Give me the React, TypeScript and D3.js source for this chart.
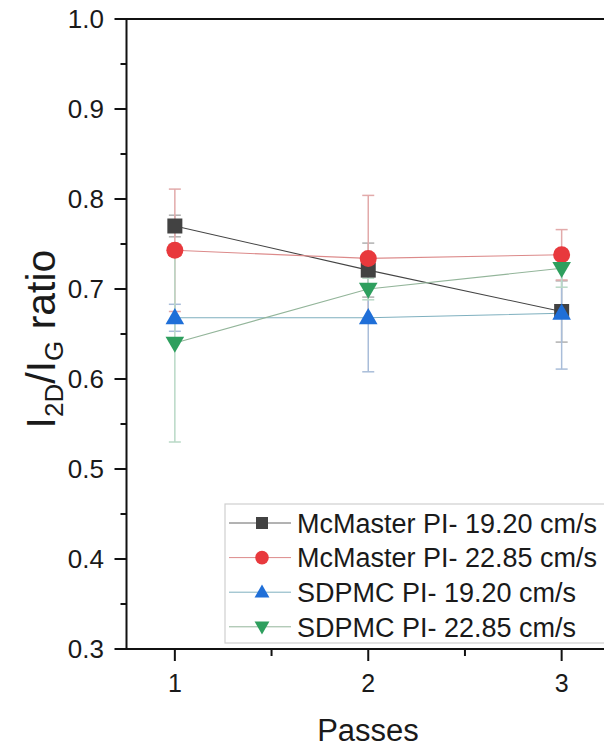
import React from "react";
import * as d3 from "d3";

const passes = [1, 2, 3];
const seriesNames = [
  "McMaster PI- 19.20 cm/s",
  "McMaster PI- 22.85 cm/s",
  "SDPMC PI- 19.20 cm/s",
  "SDPMC PI- 22.85 cm/s",
];
const mcm1920 = [0.77, 0.721, 0.675];
const mcm1920Err = [0.012, 0.03, 0.034];
const mcm2285 = [0.743, 0.734, 0.738];
const mcm2285Err = [0.068, 0.07, 0.028];
const sd1920 = [0.668, 0.668, 0.673];
const sd1920Err = [0.015, 0.06, 0.062];
const sd2285 = [0.64, 0.7, 0.723];
const sd2285Err = [0.11, 0.012, 0.021];

const yTicks = [0.3, 0.4, 0.5, 0.6, 0.7, 0.8, 0.9, 1.0];
const xTicks = [1, 2, 3];

const FONT = "'Liberation Sans', Arial, Helvetica, sans-serif";

type Shape = "square" | "circle" | "up" | "down";

const series = [
  { name: seriesNames[0], values: mcm1920, err: mcm1920Err, shape: "square" as Shape, fill: "#424242", line: "#444444", bar: "#b0b0b0" },
  { name: seriesNames[1], values: mcm2285, err: mcm2285Err, shape: "circle" as Shape, fill: "#e8393d", line: "#dc8a8a", bar: "#e2aaaa" },
  { name: seriesNames[2], values: sd1920, err: sd1920Err, shape: "up" as Shape, fill: "#1f6fd8", line: "#7fb0bf", bar: "#a9bdd9" },
  { name: seriesNames[3], values: sd2285, err: sd2285Err, shape: "down" as Shape, fill: "#2e9f5e", line: "#93b59a", bar: "#b9d9c6" },
];

function Marker({ shape, x, y, fill, s = 1 }: { shape: Shape; x: number; y: number; fill: string; s?: number }) {
  if (shape === "square") return <rect x={x - 7.5 * s} y={y - 7.5 * s} width={15 * s} height={15 * s} fill={fill} />;
  if (shape === "circle") return <circle cx={x} cy={y} r={8.5 * s} fill={fill} />;
  const sym = d3.symbol().type(d3.symbolTriangle).size(150 * s * s)();
  return (
    <path d={sym || ""} transform={`translate(${x},${y + (shape === "up" ? 1 : -1)}) rotate(${shape === "down" ? 180 : 0})`} fill={fill} />
  );
}

export default function App() {
  const W = 604, H = 748;
  const left = 126.5, right = 610, top = 19, bottom = 649;
  const x = d3.scaleLinear().domain([0.75, 3.25]).range([left, right]);
  const y = d3.scaleLinear().domain([0.3, 1.0]).range([bottom, top]);
  const minorY = d3.range(0.35, 1.0, 0.1);
  const minorX = [1.5, 2.5];

  return (
    <svg width={W} height={H} style={{ position: "absolute", left: 0, top: 0, background: "#fff" }} fontFamily={FONT}>
      <rect width={W} height={H} fill="#fff" />
      {series.map((s, i) => {
        const line = d3.line<number>().x((_, j) => x(passes[j])).y((v) => y(v));
        return <path key={"l" + i} d={line(s.values) || ""} fill="none" stroke={s.line} strokeWidth={1.1} />;
      })}
      {series.map((s, i) =>
        s.values.map((v, j) => {
          const cx = x(passes[j]);
          const y1 = y(v + s.err[j]);
          const y2 = y(v - s.err[j]);
          return (
            <g key={`e${i}-${j}`} stroke={s.bar} strokeWidth={1.5}>
              <line x1={cx} x2={cx} y1={y1} y2={y2} />
              <line x1={cx - 6} x2={cx + 6} y1={y1} y2={y1} />
              <line x1={cx - 6} x2={cx + 6} y1={y2} y2={y2} />
            </g>
          );
        })
      )}
      {series.map((s, i) =>
        s.values.map((v, j) => <Marker key={`m${i}-${j}`} shape={s.shape} x={x(passes[j])} y={y(v)} fill={s.fill} />)
      )}
      <line x1={left} x2={W} y1={top} y2={top} stroke="#111" strokeWidth={2} />
      <line x1={left} x2={W} y1={bottom} y2={bottom} stroke="#111" strokeWidth={2} />
      <line x1={left} x2={left} y1={top - 1} y2={bottom + 1} stroke="#111" strokeWidth={2} />
      {yTicks.map((t) => (
        <g key={"yt" + t}>
          <line x1={left - 12} x2={left} y1={y(t)} y2={y(t)} stroke="#111" strokeWidth={2} />
          <text x={104} y={y(t)} dy="0.36em" textAnchor="end" fontSize={26} fill="#1a1a1a">
            {d3.format(".1f")(t)}
          </text>
        </g>
      ))}
      {minorY.map((t) => (
        <line key={"ym" + t} x1={left - 6} x2={left} y1={y(t)} y2={y(t)} stroke="#111" strokeWidth={2} />
      ))}
      {xTicks.map((t) => (
        <g key={"xt" + t}>
          <line x1={x(t)} x2={x(t)} y1={bottom} y2={bottom + 12} stroke="#111" strokeWidth={2} />
          <text x={x(t)} y={692} textAnchor="middle" fontSize={25} fill="#1a1a1a">
            {t}
          </text>
        </g>
      ))}
      {minorX.map((t) => (
        <line key={"xm" + t} x1={x(t)} x2={x(t)} y1={bottom} y2={bottom + 7} stroke="#111" strokeWidth={2} />
      ))}
      <text x={368} y={741} textAnchor="middle" fontSize={31} fill="#1a1a1a">
        Passes
      </text>
      <text transform="translate(55,339) rotate(-90)" textAnchor="middle" fontSize={41} fill="#1a1a1a">
        I<tspan fontSize={26} dy={8}>2D</tspan>
        <tspan dy={-8}>/I</tspan>
        <tspan fontSize={26} dy={8}>G</tspan>
        <tspan dy={-8}> ratio</tspan>
      </text>
      <rect x={225} y={504} width={390} height={139} fill="#fff" stroke="#cfcfcf" strokeWidth={1.2} />
      {series.map((s, i) => {
        const ly = 523 + i * 34.6;
        return (
          <g key={"lg" + i}>
            <line x1={229} x2={291} y1={ly} y2={ly} stroke={i === 0 ? "#666" : s.line} strokeWidth={1} />
            <Marker shape={s.shape} x={262} y={ly} fill={s.fill} s={0.8} />
            <text x={297} y={ly} dy="0.36em" fontSize={27} fill="#1a1a1a">
              {s.name}
            </text>
          </g>
        );
      })}
    </svg>
  );
}
